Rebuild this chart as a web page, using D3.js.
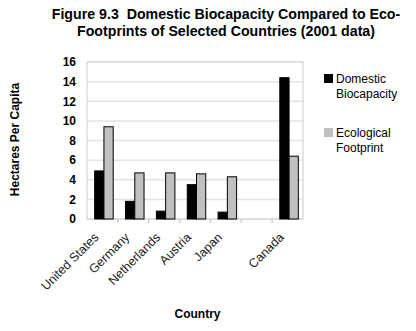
<!DOCTYPE html>
<html><head><meta charset="utf-8">
<script src="https://cdn.jsdelivr.net/npm/d3@7"></script>
<style>body{margin:0;background:#fff}svg{display:block}text{font-family:"Liberation Sans",Arial,sans-serif}</style>
</head><body>
<script>
const categories = ["United States","Germany","Netherlands","Austria","Japan"," ","Canada"];
const biocapacity = [4.9, 1.8, 0.8, 3.5, 0.7, null, 14.4];
const footprint   = [9.4, 4.7, 4.7, 4.6, 4.3, null, 6.4];
const seriesNames = ["Domestic Biocapacity","Ecological Footprint"];
const yTicks = [0,2,4,6,8,10,12,14,16];

const W = 416, H = 331;
const m = {left:87, right:113, top:62, bottom:112};
const pw = W - m.left - m.right, ph = H - m.top - m.bottom;
const svg = d3.select("body").append("svg").attr("width",W).attr("height",H);

// title
const t = svg.append("text").attr("text-anchor","middle").attr("font-weight","bold").attr("font-size",14.2)
  .attr("fill","#000").style("white-space","pre");
t.append("tspan").attr("x",226).attr("y",19).text("Figure 9.3  Domestic Biocapacity Compared to Eco-");
t.append("tspan").attr("x",226).attr("y",36).text("Footprints of Selected Countries (2001 data)");

const g = svg.append("g").attr("transform",`translate(${m.left},${m.top})`);
const x0 = d3.scaleBand().domain(categories).range([0,pw]).paddingInner(0.4).paddingOuter(0.2);
const x1 = d3.scaleBand().domain([0,1]).range([0,x0.bandwidth()]);
const y = d3.scaleLinear().domain([0,16]).range([ph,0]);

// gridlines
g.selectAll(".grid").data(yTicks).join("line")
  .attr("x1",0).attr("x2",pw).attr("y1",d=>y(d)).attr("y2",d=>y(d))
  .attr("stroke","#e3e3e3").attr("stroke-width",1.5);
// border
g.append("rect").attr("x",0).attr("y",0).attr("width",pw).attr("height",ph)
  .attr("fill","none").attr("stroke","#dcdcdc").attr("stroke-width",1.5);

// y axis labels
const ya = g.append("g").call(d3.axisLeft(y).tickValues(yTicks).tickSize(0).tickPadding(11));
ya.select(".domain").remove();
ya.selectAll("text").attr("font-size",12).attr("font-weight","bold").attr("fill","#000")
  .style("font-family",'"Liberation Sans",Arial,sans-serif');

// x axis ticks at boundaries
const step = x0.step();
const bounds = d3.range(1, categories.length).map(i => i*step);
g.selectAll(".xt").data(bounds).join("line")
  .attr("x1",d=>d).attr("x2",d=>d).attr("y1",ph).attr("y2",ph+4)
  .attr("stroke","#d0d0d0").attr("stroke-width",1.5);

// bars
const data = categories.map((c,i)=>({c, v:[biocapacity[i], footprint[i]]}));
const fills = ["#000000","#c0c0c0"];
const grp = g.selectAll(".grp").data(data).join("g").attr("transform",d=>`translate(${x0(d.c)+1.5},0)`);
grp.selectAll("rect").data(d=>d.v.map((v,k)=>({v,k})).filter(e=>e.v!=null)).join("rect")
  .attr("x",d=>x1(d.k)).attr("width",x1.bandwidth())
  .attr("y",d=>y(d.v)).attr("height",d=>ph-y(d.v))
  .attr("fill",d=>fills[d.k]).attr("stroke","#000").attr("stroke-width",1);

// x labels
g.selectAll(".xl").data(categories).join("text")
  .attr("transform",d=>`translate(${x0(d)+x0.bandwidth()/2-3},${ph+19}) rotate(-45)`)
  .attr("text-anchor","end").attr("font-size",12.5).attr("fill","#222").text(d=>d.trim());

// axis titles
svg.append("text").attr("transform",`translate(18.5,${m.top+ph/2-1}) rotate(-90)`)
  .attr("text-anchor","middle").attr("font-weight","bold").attr("font-size",12).text("Hectares Per Capita");
svg.append("text").attr("x",197.5).attr("y",318).attr("text-anchor","middle")
  .attr("font-weight","bold").attr("font-size",12).text("Country");

// legend
const lg = svg.append("g").attr("transform","translate(324,74)");
const lines = [["Domestic","Biocapacity"],["Ecological","Footprint"]];
seriesNames.forEach((s,i)=>{
  const gy = i*54;
  lg.append("rect").attr("x",0).attr("y",gy).attr("width",9).attr("height",9).attr("fill",fills[i]);
  const tx = lg.append("text").attr("font-size",12).attr("fill","#000");
  lines[i].forEach((l,j)=>tx.append("tspan").attr("x",12).attr("y",gy+9+j*15).text(l));
});
</script>
</body></html>
